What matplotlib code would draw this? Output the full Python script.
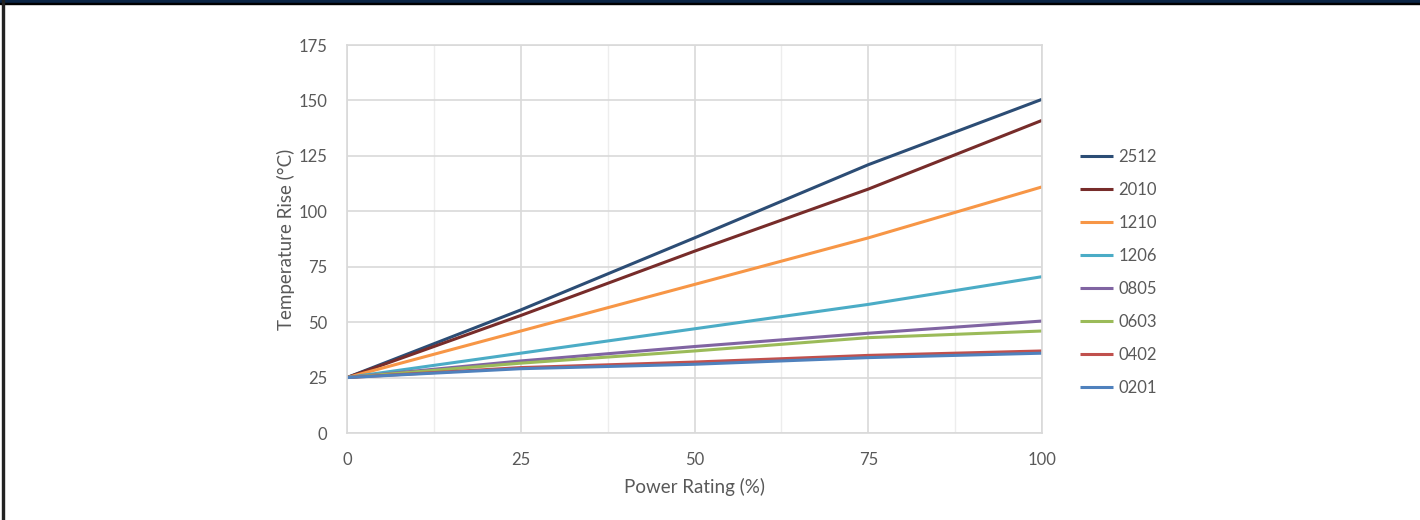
import matplotlib
matplotlib.use("Agg")
import matplotlib.pyplot as plt
from matplotlib.patches import Rectangle
from matplotlib.ticker import MultipleLocator

# power rating (%) and temperature rise per case size
power = [0, 25, 50, 75, 100]
sizes = ["2512", "2010", "1210", "1206", "0805", "0603", "0402", "0201"]
temp_2512 = [25, 55.5, 88, 121, 150.5]
temp_2010 = [25, 53, 82, 110, 141]
temp_1210 = [25, 46, 67, 88, 111]
temp_1206 = [25, 36, 47, 58, 70.5]
temp_0805 = [25, 32.5, 39, 45, 50.5]
temp_0603 = [25, 31.5, 37, 43, 46]
temp_0402 = [25, 29.5, 32, 35, 37]
temp_0201 = [25, 29, 31, 34, 36]
series = [temp_2512, temp_2010, temp_1210, temp_1206,
          temp_0805, temp_0603, temp_0402, temp_0201]
colors = ["#2C4D75", "#772C2A", "#F79646", "#4BACC6",
          "#8064A2", "#9BBB59", "#C0504D", "#4F81BD"]

plt.rcParams["font.family"] = ["Lato", "DejaVu Sans"]
txt = "#595959"

fig = plt.figure(figsize=(14.2, 5.2), dpi=100)
ax = fig.add_axes([347 / 1420, 87 / 520, 695 / 1420, 388 / 520])

for name, vals, c in zip(sizes, series, colors):
    ax.plot(power, vals, color=c, lw=2.2, label=name, solid_capstyle="butt")

ax.set_xlim(0, 100)
ax.set_ylim(0, 175)
ax.xaxis.set_major_locator(MultipleLocator(25))
ax.xaxis.set_minor_locator(MultipleLocator(12.5))
ax.yaxis.set_major_locator(MultipleLocator(25))
ax.grid(which="major", color="#d9d9d9", lw=1.2)
ax.grid(which="minor", axis="x", color="#ededed", lw=1.0)
ax.set_axisbelow(True)
for s in ax.spines.values():
    s.set_color("#d9d9d9")
    s.set_linewidth(1.2)
ax.tick_params(which="both", length=0, labelsize=12, labelcolor=txt, pad=14)

ax.set_xlabel("Power Rating (%)", fontsize=13.5, color=txt, labelpad=7)
ax.set_ylabel("Temperature Rise (°C)", fontsize=13.5, color=txt, labelpad=3)

ax.legend(loc="center left", bbox_to_anchor=(1.045, 0.413), frameon=False,
          fontsize=12, labelcolor=txt, labelspacing=1.02, handlelength=2.0,
          handletextpad=0.3, borderaxespad=0)

# frame around the picture: navy top bar and thin dark left edge
fig.patches.append(Rectangle((0, 1 - 3 / 520), 1, 3 / 520, transform=fig.transFigure,
                             color="#0b2545", zorder=10))
fig.patches.append(Rectangle((0, 1 - 4 / 520), 1, 1 / 520, transform=fig.transFigure,
                             color="#000000", zorder=10))
fig.patches.append(Rectangle((2 / 1420, 0), 2 / 1420, 1, transform=fig.transFigure,
                             color="#222222", zorder=10))

fig.savefig("out.png", dpi=100)
